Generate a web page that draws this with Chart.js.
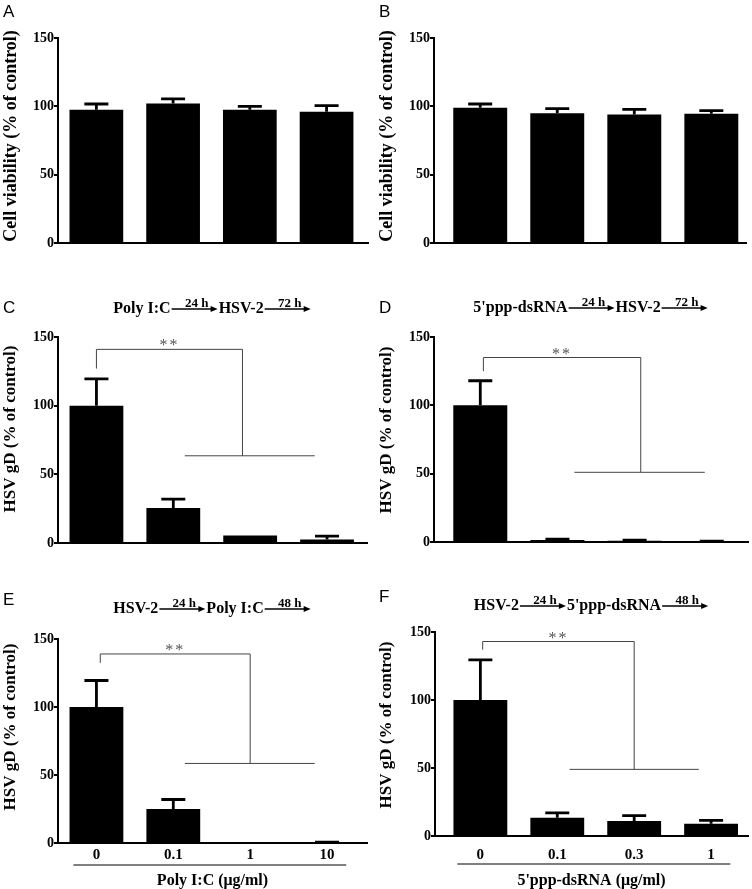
<!DOCTYPE html>
<html>
<head>
<meta charset="utf-8">
<script src="https://cdn.jsdelivr.net/npm/chart.js@4.4.0/dist/chart.umd.min.js"></script>
<style>
  html, body { margin: 0; padding: 0; background: #fff; }
  #fig { position: relative; width: 752px; height: 889px; }
  .panel { position: absolute; }
  .panel canvas { display: block; }
</style>
</head>
<body>
<div id="fig">
  <div class="panel" style="left:0;top:0"><canvas id="cA" width="376" height="260"></canvas></div>
  <div class="panel" style="left:376px;top:0"><canvas id="cB" width="376" height="260"></canvas></div>
  <div class="panel" style="left:0;top:260px"><canvas id="cC" width="376" height="300"></canvas></div>
  <div class="panel" style="left:376px;top:260px"><canvas id="cD" width="376" height="300"></canvas></div>
  <div class="panel" style="left:0;top:560px"><canvas id="cE" width="376" height="329"></canvas></div>
  <div class="panel" style="left:376px;top:560px"><canvas id="cF" width="376" height="329"></canvas></div>
</div>
<script>
// values (% of control), mean and SEM per group
const viabilityA = [97.5, 102, 97.5, 96]
const viabilitySemA = [4.2, 3.4, 2.5, 4.5]
const viabilityB = [99, 95, 94, 94.5]
const viabilitySemB = [2.7, 3.3, 3.8, 2.3]
const gdC = [100, 25.5, 5.5, 2.5]
const gdSemC = [19.5, 6.5, 0, 2.5]
const gdD = [100, 1.5, 1, 0.5]
const gdSemD = [18, 0.5, 0.3, 0.2]
const gdE = [100, 25, 0, 0.5]
const gdSemE = [19.5, 7, 0, 0.2]
const gdF = [100, 13.5, 11, 9]
const gdSemF = [29.5, 3.5, 4, 2.5]

const dosesE = ['0', '0.1', '1', '10']
const dosesF = ['0', '0.1', '0.3', '1']
const yTicks = [0, 50, 100, 150]

// treatment schemes: text, arrow label, text, arrow label
const headerC = ['Poly I:C', '24 h', 'HSV-2', '72 h']
const headerD = ["5'ppp-dsRNA", '24 h', 'HSV-2', '72 h']
const headerE = ['HSV-2', '24 h', 'Poly I:C', '48 h']
const headerF = ['HSV-2', '24 h', "5'ppp-dsRNA", '48 h']

// significance brackets (group index / % values)
const sigC = { from: 0, to: 1.9, top: 141, drop: 127, groupY: 63.5, groupFrom: 1.15, groupTo: 2.84 }
const sigD = { from: 0.04, to: 2.08, top: 135, drop: 125, groupY: 51, groupFrom: 1.22, groupTo: 2.91 }
const sigE = { from: 0.05, to: 2.0, top: 139, drop: 132.5, groupY: 58.5, groupFrom: 1.15, groupTo: 2.84 }
const sigF = { from: 0.03, to: 2.0, top: 143, drop: 137, groupY: 49, groupFrom: 1.16, groupTo: 2.84 }

const SERIF = "'Liberation Serif', 'Times New Roman', serif"
const SANS = "'Liberation Sans', Arial, sans-serif"

const panels = [
  { id: 'A', values: viabilityA, sem: viabilitySemA, yTitle: 'Cell viability (% of control)', titleSize: 18, titleY: 136,
    xMin: -0.5, xMax: 3.54, axisLeft: 58, pad: { top: 38, right: 8 }, xHeight: 17, letterY: 17 },
  { id: 'B', values: viabilityB, sem: viabilitySemB, yTitle: 'Cell viability (% of control)', titleSize: 18, titleY: 136,
    xMin: -0.6, xMax: 3.45, axisLeft: 58, pad: { top: 38, right: 6 }, xHeight: 17, letterY: 17 },
  { id: 'C', values: gdC, sem: gdSemC, yTitle: 'HSV gD (% of control)', titleSize: 17, titleY: 169,
    xMin: -0.5, xMax: 3.52, axisLeft: 58, pad: { top: 77, right: 9 }, xHeight: 17, letterY: 53,
    header: headerC, headerY: 53, sig: sigC },
  { id: 'D', values: gdD, sem: gdSemD, yTitle: 'HSV gD (% of control)', titleSize: 17, titleY: 170,
    xMin: -0.6, xMax: 3.47, axisLeft: 58, pad: { top: 77, right: 4 }, xHeight: 18, letterY: 53,
    header: headerD, headerY: 52, sig: sigD },
  { id: 'E', values: gdE, sem: gdSemE, yTitle: 'HSV gD (% of control)', titleSize: 17, titleY: 167,
    xMin: -0.5, xMax: 3.52, axisLeft: 58, pad: { top: 79, right: 9 }, xHeight: 46, letterY: 45,
    header: headerE, headerY: 53, sig: sigE, doses: dosesE, doseTitle: 'Poly I:C (μg/ml)', tickPad: 3, underline: 22 },
  { id: 'F', values: gdF, sem: gdSemF, yTitle: 'HSV gD (% of control)', titleSize: 17, titleY: 165,
    xMin: -0.59, xMax: 3.48, axisLeft: 59, pad: { top: 72, right: 4 }, xHeight: 53, letterY: 42,
    header: headerF, headerY: 50, sig: sigF, doses: dosesF, doseTitle: "5'ppp-dsRNA (μg/ml)", tickPad: 10, underline: 28 }
]

function drawHeader(ctx, parts, cx, y) {
  const main = `bold 16px ${SERIF}`
  const small = `bold 13px ${SERIF}`
  const arrowLen = 46
  ctx.font = main
  let total = 0
  parts.forEach((t, i) => { total += i % 2 === 0 ? ctx.measureText(t).width : arrowLen + 2 })
  let x = cx - total / 2
  ctx.fillStyle = '#000'
  ctx.strokeStyle = '#000'
  ctx.textBaseline = 'alphabetic'
  parts.forEach((t, i) => {
    if (i % 2 === 0) {
      ctx.font = main
      ctx.textAlign = 'left'
      ctx.fillText(t, x, y)
      x += ctx.measureText(t).width
    } else {
      const x0 = x + 1, x1 = x + 1 + arrowLen, ay = y - 4
      ctx.lineWidth = 1.5
      ctx.beginPath()
      ctx.moveTo(x0, ay)
      ctx.lineTo(x1 - 5, ay)
      ctx.stroke()
      ctx.beginPath()
      ctx.moveTo(x1, ay)
      ctx.lineTo(x1 - 7, ay - 3)
      ctx.lineTo(x1 - 7, ay + 3)
      ctx.closePath()
      ctx.fill()
      ctx.font = small
      ctx.textAlign = 'center'
      ctx.fillText(t, (x0 + x1) / 2 + 2, ay - 2)
      x = x1 + 1
    }
  })
}

function drawBracket(ctx, xs, ys, b) {
  const xl = xs.getPixelForValue(b.from), xr = xs.getPixelForValue(b.to)
  const yt = ys.getPixelForValue(b.top), yd = ys.getPixelForValue(b.drop), yg = ys.getPixelForValue(b.groupY)
  ctx.strokeStyle = '#444'
  ctx.lineWidth = 1
  ctx.beginPath()
  ctx.moveTo(xl, yd)
  ctx.lineTo(xl, yt)
  ctx.lineTo(xr, yt)
  ctx.lineTo(xr, yg)
  ctx.moveTo(xs.getPixelForValue(b.groupFrom), yg)
  ctx.lineTo(xs.getPixelForValue(b.groupTo), yg)
  ctx.stroke()
  ctx.fillStyle = '#555'
  ctx.font = `16px ${SERIF}`
  ctx.textAlign = 'center'
  ctx.textBaseline = 'alphabetic'
  if ('letterSpacing' in ctx) ctx.letterSpacing = '2px'
  ctx.fillText('**', (xl + xr) / 2, yt + 1)
  if ('letterSpacing' in ctx) ctx.letterSpacing = '0px'
}

function makeChart(p) {
  const annotate = {
    id: 'annotate' + p.id,
    afterDatasetsDraw(chart) {
      const ctx = chart.ctx
      const xs = chart.scales.x, ys = chart.scales.y
      const area = chart.chartArea
      ctx.save()
      // error bars (upper SEM only)
      ctx.strokeStyle = '#000'
      ctx.lineWidth = 2.8
      chart.getDatasetMeta(0).data.forEach((bar, i) => {
        const s = p.sem[i]
        if (!s) return
        const top = ys.getPixelForValue(p.values[i] + s)
        ctx.beginPath()
        ctx.moveTo(bar.x, bar.y)
        ctx.lineTo(bar.x, top)
        ctx.moveTo(bar.x - 12, top)
        ctx.lineTo(bar.x + 12, top)
        ctx.stroke()
      })
      if (p.sig) drawBracket(ctx, xs, ys, p.sig)
      if (p.header) drawHeader(ctx, p.header, (area.left + area.right) / 2, p.headerY)
      if (p.doses) {
        const uy = area.bottom + p.underline
        ctx.strokeStyle = '#000'
        ctx.lineWidth = 1
        ctx.beginPath()
        ctx.moveTo(xs.getPixelForValue(-0.3), uy)
        ctx.lineTo(xs.getPixelForValue(3.25), uy)
        ctx.stroke()
      }
      // y-axis title, rotated
      ctx.fillStyle = '#000'
      ctx.font = `bold ${p.titleSize}px ${SERIF}`
      ctx.textAlign = 'center'
      ctx.textBaseline = 'middle'
      ctx.save()
      ctx.translate(11, p.titleY)
      ctx.rotate(-Math.PI / 2)
      ctx.fillText(p.yTitle, 0, 0)
      ctx.restore()
      // panel letter
      ctx.font = `17px ${SANS}`
      ctx.textAlign = 'left'
      ctx.textBaseline = 'alphabetic'
      ctx.fillText(p.id, 3, p.letterY)
      ctx.restore()
    }
  }

  const bold = (size) => ({ family: SERIF, size: size, weight: 'bold' })

  return new Chart(document.getElementById('c' + p.id), {
    type: 'bar',
    data: {
      datasets: [{
        data: p.values.map((v, i) => ({ x: i, y: v })),
        backgroundColor: '#000',
        borderWidth: 0,
        categoryPercentage: 1,
        barPercentage: 0.7
      }]
    },
    options: {
      responsive: false,
      animation: false,
      layout: { padding: { top: p.pad.top, right: p.pad.right, left: 0, bottom: 0 } },
      plugins: { legend: { display: false }, tooltip: { enabled: false } },
      scales: {
        x: {
          type: 'linear',
          offset: false,
          bounds: 'data',
          min: p.xMin,
          max: p.xMax,
          afterBuildTicks: (s) => { s.ticks = p.values.map((v, i) => ({ value: i })) },
          afterFit: (s) => { s.height = p.xHeight },
          ticks: {
            display: !!p.doses,
            color: '#000',
            padding: p.tickPad || 0,
            maxRotation: 0,
            font: bold(15),
            callback: (v, i) => (p.doses ? p.doses[i] : '')
          },
          grid: { display: false, offset: false, drawTicks: false, tickLength: 0 },
          border: { display: true, color: '#000', width: 2 },
          title: {
            display: !!p.doses,
            text: p.doseTitle || '',
            color: '#000',
            font: { family: SERIF, size: 16, weight: 'bold', lineHeight: 1 },
            padding: { top: 0, bottom: 0 }
          }
        },
        y: {
          min: 0,
          max: 150,
          afterBuildTicks: (s) => { s.ticks = yTicks.map(v => ({ value: v })) },
          afterFit: (s) => { s.width = p.axisLeft },
          ticks: { color: '#000', padding: 0, font: bold(14) },
          grid: { drawOnChartArea: false, drawTicks: true, tickLength: 4, color: '#000', lineWidth: 2 },
          border: { display: true, color: '#000', width: 2 },
          title: { display: false }
        }
      }
    },
    plugins: [annotate]
  })
}

panels.forEach(makeChart)
</script>
</body>
</html>
